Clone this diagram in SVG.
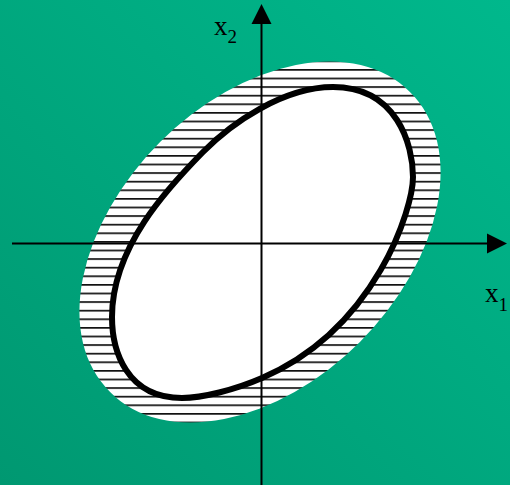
<svg xmlns="http://www.w3.org/2000/svg" width="510" height="485" viewBox="0 0 510 485">
  <defs>
    <linearGradient id="bg" x1="1" y1="0" x2="0" y2="1">
      <stop offset="0" stop-color="#00B88C"/>
      <stop offset="1" stop-color="#009871"/>
    </linearGradient>
    <pattern id="hatch" patternUnits="userSpaceOnUse" x="0" y="129.2" width="20" height="8.6">
      <rect width="20" height="8.6" fill="#ffffff"/>
      <rect y="0" width="20" height="1.7" fill="#111111"/>
    </pattern>
  </defs>
  <style>
    .axis { stroke: #000000; stroke-width: 2; fill: none; }
    .head { fill: #000000; }
    .lbl { font-family: "Liberation Serif", "Times New Roman", serif; font-size: 27px; fill: #000000; }
    .sub { font-size: 19px; }
  </style>
  <rect id="background" width="510" height="485" fill="url(#bg)"/>
  <g id="outer-region">
    <path d="M 409.9 92.1 A 212 140 -45 1 0 110.1 391.9 A 212 140 -45 1 0 409.9 92.1 Z" fill="url(#hatch)"/>
  </g>
  <g id="inner-region">
    <path d="M 333 87 C 397 87, 413 145, 413 177 C 413 207, 377 328, 262 378 C 234.4 390, 202 398, 182 398 C 126 398, 112 350, 112 317 C 112 247, 168 187.7, 203 152 C 231 123.4, 283 87, 333 87 Z" fill="#ffffff" stroke="#000000" stroke-width="6"/>
  </g>
  <g id="connectors">
    <line class="axis" x1="261.5" y1="22" x2="261.5" y2="485"/>
    <polygon class="head" points="261.5,4 251.5,24 271.5,24"/>
    <line class="axis" x1="12" y1="243.5" x2="489" y2="243.5"/>
    <polygon class="head" points="507,243.5 487,233.5 487,253.5"/>
  </g>
  <g id="label-x2">
    <text class="lbl" x="214" y="35">x<tspan class="sub" dy="8">2</tspan></text>
  </g>
  <g id="label-x1">
    <text class="lbl" x="485" y="302">x<tspan class="sub" dy="9">1</tspan></text>
  </g>
</svg>
